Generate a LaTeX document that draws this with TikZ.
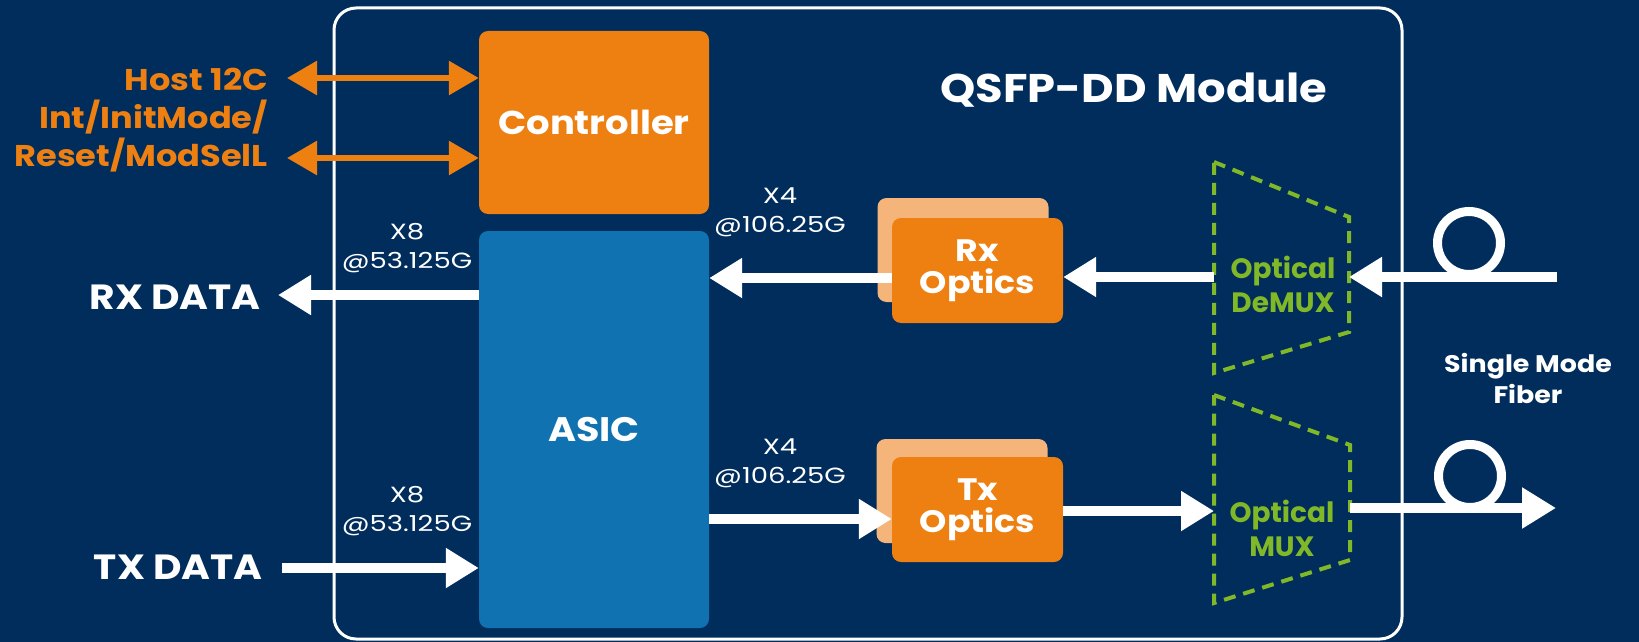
\documentclass[tikz,border=0pt]{standalone}
\usepackage{fontspec}
\setmainfont{Poppins}
\newfontfamily\widefont[FakeStretch=1.12]{Poppins}
\newfontfamily\ratefont[FakeStretch=1.25]{Poppins}
\usetikzlibrary{arrows.meta,positioning}

\definecolor{navy}{RGB}{0,45,92}
\definecolor{orng}{RGB}{238,128,18}
\definecolor{lorng}{RGB}{245,181,122}
\definecolor{asicblue}{RGB}{16,114,176}
\definecolor{grn}{RGB}{128,184,40}

\tikzset{
  blk/.style={rounded corners=9pt, inner sep=0pt, text=white, align=center},
  bigarrow/.style={draw=white, line width=10pt, -{Triangle[length=33pt,width=38pt]}},
  hostarrow/.style={draw=orng, line width=6pt,
    {Triangle[length=30pt,width=33pt]}-{Triangle[length=30pt,width=33pt]}},
  rate/.style={text=white, align=center, font=\ratefont\fontsize{22}{29}\selectfont},
  muxline/.style={draw=grn, line width=4pt, dash pattern=on 12pt off 8pt},
}

\begin{document}
\begin{tikzpicture}[x=1pt, y=-1pt]
    % 1. Background and the module frame
    \fill[navy] (0,0) rectangle (1639,642);
    \node[draw=white, line width=3pt, rounded corners=22pt,
          minimum width=1068pt, minimum height=631pt] (module) at (868,323.5) {};
    \node[text=white, font=\widefont\bfseries\fontsize{40}{48}\selectfont] (title) at (1134,90) {QSFP-DD Module};

    % 2. The blocks
    \node[blk, fill=orng, minimum width=230pt, minimum height=183pt,
          font=\widefont\bfseries\fontsize{33}{38}\selectfont] (ctrl) at (594,122.5) {Controller};
    \node[blk, fill=asicblue, minimum width=230pt, minimum height=397pt,
          font=\widefont\bfseries\fontsize{34}{38}\selectfont] (asic) at (594,429.5) {ASIC};

    % Rx and Tx optics (a paler card behind each)
    \node[blk, fill=lorng, minimum width=171pt, minimum height=104pt] (rxback) at (963,250) {};
    \node[blk, fill=orng, minimum width=171pt, minimum height=105pt,
          font=\widefont\bfseries\fontsize{31}{32}\selectfont] (rxopt) at (977.5,270.5) {Rx\\Optics};
    \node[blk, fill=lorng, minimum width=171pt, minimum height=104pt] (txback) at (962,491) {};
    \node[blk, fill=orng, minimum width=171pt, minimum height=105pt,
          font=\widefont\bfseries\fontsize{31}{32}\selectfont] (txopt) at (977.5,509.5) {Tx\\Optics};

    % 3. Optical DeMUX / MUX (dashed trapezoids)
    \draw[muxline] (1214,162) -- (1349,217) -- (1349,332) -- (1214,373) -- cycle;
    \draw[muxline] (1214,395) -- (1350,445) -- (1350,560) -- (1214,603) -- cycle;
    \node[text=grn, align=center, font=\bfseries\fontsize{28}{34}\selectfont] (demux) at (1283,284) {Optical\\DeMUX};
    \node[text=grn, align=center, font=\bfseries\fontsize{28}{34}\selectfont] (mux) at (1282,528) {Optical\\MUX};

    \coordinate (demuxL) at (1214,277);
    \coordinate (demuxR) at (1349,277);
    \coordinate (muxL)   at (1214,511);
    \coordinate (muxR)   at (1350,508);

    % 4. Left side labels
    \node[anchor=east, text=orng, align=right, inner sep=0pt,
          font=\widefont\bfseries\fontsize{30}{38}\selectfont] (host) at (268,120)
          {Host 12C\\Int/InitMode/\\Reset/ModSelL};
    \node[anchor=east, text=white, inner sep=0pt,
          font=\widefont\bfseries\fontsize{35}{38}\selectfont] (rxdata) at (261,297) {RX DATA};
    \node[anchor=east, text=white, inner sep=0pt,
          font=\widefont\bfseries\fontsize{35}{38}\selectfont] (txdata) at (263,567) {TX DATA};

    \coordinate (hostA) at (287,78);   % upper host line
    \coordinate (hostB) at (287,158);  % lower host line

    % lane rates
    \node[rate] (rxrate) at (407,248) {X8\\@53.125G};
    \node[rate] (txrate) at (407,511) {X8\\@53.125G};
    \node[rate] (rxlane) at (780,212) {X4\\@106.25G};
    \node[rate] (txlane) at (780,463) {X4\\@106.25G};

    % 5. Connectors
    \draw[hostarrow] (hostA) -- (ctrl.west |- hostA);
    \draw[hostarrow] (hostB) -- (ctrl.west |- hostB);

    \draw[bigarrow] (asic.west |- 0,295) -- ([xshift=17pt]rxdata.east |- 0,295);
    \draw[bigarrow] ([xshift=19pt]txdata.east |- 0,568) -- (asic.west |- 0,568);

    \draw[bigarrow] (rxopt.west |- 0,278) -- (asic.east |- 0,278);
    \draw[bigarrow] (asic.east |- 0,519) -- (txopt.west |- 0,519);

    \draw[bigarrow] (demuxL) -- (rxopt.east |- demuxL);
    \draw[bigarrow] (txopt.east |- muxL) -- (muxL);

    % 6. Single mode fiber with its loops
    \coordinate (fibin)   at (1557,277);
    \coordinate (fibout)  at (1556,508);
    \coordinate (loopin)  at (1469,243);
    \coordinate (loopout) at (1470,476);

    \draw[bigarrow] (fibin) -- (demuxR);
    \draw[bigarrow, -{Triangle[length=34pt,width=39pt]}] (muxR) -- (fibout);
    \foreach \p in {loopin, loopout}
        \draw[white, line width=9pt] (\p) circle (31.5);

    \node[text=white, align=center, font=\widefont\bfseries\fontsize{24}{31}\selectfont] (smf) at (1528,378.5) {Single Mode\\Fiber};
\end{tikzpicture}
\end{document}
